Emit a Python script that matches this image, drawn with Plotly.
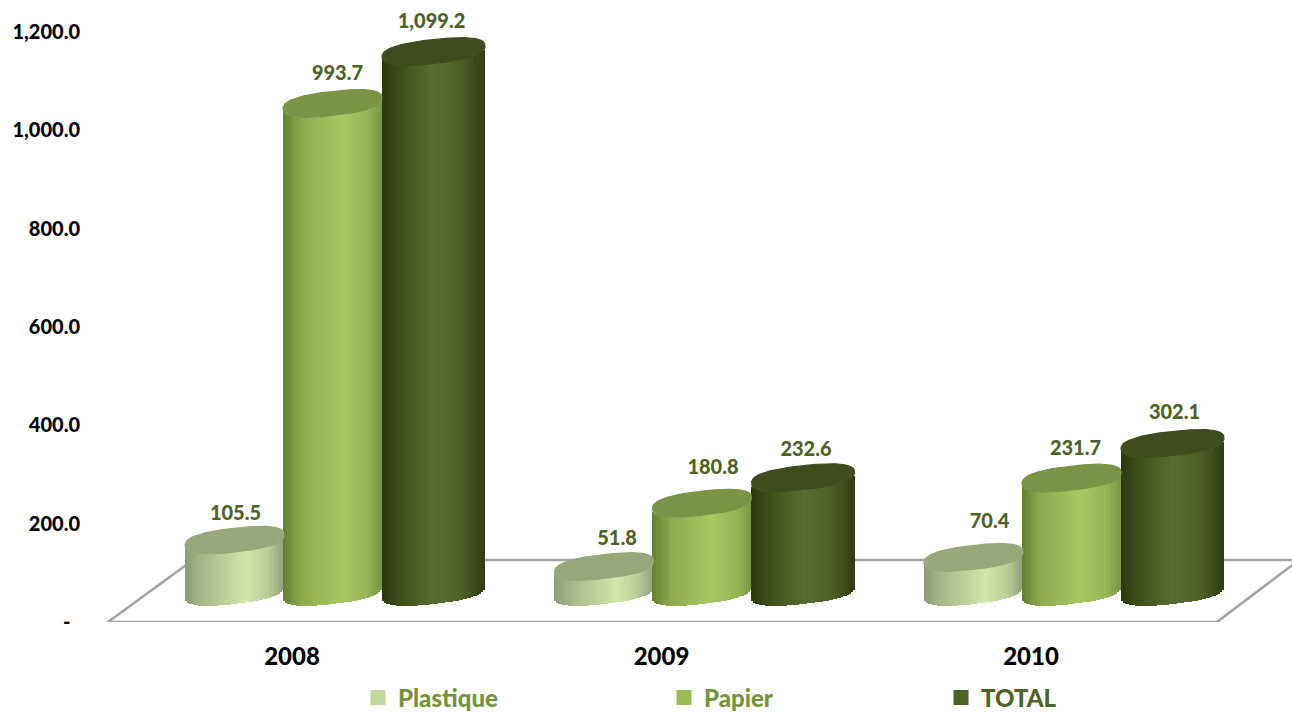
import math
import plotly.graph_objects as go

# ---- data ----
years = ["2008", "2009", "2010"]
plastique = [105.5, 51.8, 70.4]
papier = [993.7, 180.8, 231.7]
total = [1099.2, 232.6, 302.1]
y_ticks = [0, 200, 400, 600, 800, 1000, 1200]

# ---- geometry / style ----
W, H = 1292, 715
PLOT_L, PLOT_B = 88, 93
PX_PER_UNIT = 0.4917
PX_PER_CAT = 369.5
TICK0_PX = 292
FLOOR_OFFSET = 30 / PX_PER_UNIT          # cylinders stand on the 3-D floor
TILT = 5.5 / PX_PER_UNIT
MINOR = 12 / PX_PER_UNIT
ROUND = 0.8                               # <1 gives the squarer ellipse of the original
STRIPS = 52

series = [
    dict(name="Plastique", values=plastique, off=-57.5, width=99, top="#98A779", legend="#C3D69B", text="#76923C",
         nudge=[(-1, 4), (11, 2), (14, -5)],
         stops=[(-1, "#8B9C76"), (-0.6, "#A9BB8B"), (0.25, "#D3E5A9"), (0.7, "#B9CA95"), (1, "#8F9F7F")]),
    dict(name="Papier", values=papier, off=40.5, width=99, top="#7A9346", legend="#9BBB59", text="#76923C",
         nudge=[(3, 1), (9, -5), (2, 1)],
         stops=[(-1, "#64802F"), (-0.6, "#8FAC50"), (0.2, "#A6C862"), (0.7, "#96B556"), (1, "#7A9445")]),
    dict(name="TOTAL", values=total, off=141.5, width=103, top="#3F4C1E", legend="#4F6228", text="#4F6228",
         nudge=[(-4, 0), (1, 2), (0, 0)],
         stops=[(-1, "#2C3910"), (-0.55, "#43541F"), (0.0, "#5A6C2F"), (0.55, "#4E5F27"), (1, "#2F3C12")]),
]
LABEL_COLOR = "#4F6228"
FONT = "Lato, Carlito, sans-serif"
WEIGHT = 900


def shade(u, stops):
    for (u0, c0), (u1, c1) in zip(stops, stops[1:]):
        if u <= u1:
            t = (u - u0) / (u1 - u0)
            a = [int(c0[i:i + 2], 16) for i in (1, 3, 5)]
            b = [int(c1[i:i + 2], 16) for i in (1, 3, 5)]
            return "rgb(%d,%d,%d)" % tuple(round(p + (q - p) * t) for p, q in zip(a, b))
    return stops[-1][1]


def front(u):
    return (1 - abs(u) ** (2 / ROUND)) ** (ROUND / 2)


fig = go.Figure()

for s in series:
    half = s["width"] / 2 / PX_PER_CAT
    xs, ys, bases, colors = [], [], [], []
    label_x, label_y = [], []
    for i, v in enumerate(s["values"]):
        cx = i + s["off"] / PX_PER_CAT
        for k in range(STRIPS):
            u = -1 + (2 * k + 1) / STRIPS
            xs.append(cx + u * half)
            ys.append(v)
            bases.append(FLOOR_OFFSET + TILT * u - MINOR * front(u))
            colors.append(shade(u, s["stops"]))
        # flat top of the cylinder
        ex, ey = [], []
        for a in range(145):
            t = 2 * math.pi * a / 144
            cu = math.copysign(abs(math.cos(t)) ** ROUND, math.cos(t))
            su = math.copysign(abs(math.sin(t)) ** ROUND, math.sin(t))
            ex.append(cx + half * cu)
            ey.append(FLOOR_OFFSET + v + TILT * cu + MINOR * su)
        fig.add_trace(go.Scatter(x=ex, y=ey, mode="lines", fill="toself", fillcolor=s["top"],
                                 line=dict(width=1.2, color=s["top"]), showlegend=False, hoverinfo="skip"))
        dx, dy = s["nudge"][i]
        label_x.append(cx + (2 + dx) / PX_PER_CAT)
        label_y.append(FLOOR_OFFSET + v + (29 - dy) / PX_PER_UNIT)
    fig.add_trace(go.Bar(x=xs, y=ys, base=bases, width=[2 * half / STRIPS * 1.05] * len(xs),
                         marker=dict(color=colors, line=dict(width=0)), showlegend=False, hoverinfo="skip"))
    fig.add_trace(go.Scatter(x=label_x, y=label_y, mode="text",
                             text=[f"{v:,.1f}" for v in s["values"]],
                             textposition="middle center",
                             textfont=dict(family=FONT, size=20, weight=WEIGHT, color=LABEL_COLOR),
                             showlegend=False, hoverinfo="skip"))

# legends (one per series so that each can be placed on its own)
legend_px = [358, 664, 941]
plot_w = W - PLOT_L
plot_h = H - PLOT_B
legends = {}
for n, (s, lx) in enumerate(zip(series, legend_px)):
    key = "legend" if n == 0 else f"legend{n + 1}"
    fig.add_trace(go.Scatter(x=[None], y=[None], mode="markers", name=s["name"], legend=key,
                             marker=dict(symbol="square", size=15, color=s["legend"])))
    legends[key] = dict(x=(lx - PLOT_L) / plot_w, y=(plot_h - 698) / plot_h, xanchor="left", yanchor="middle",
                        bgcolor="rgba(0,0,0,0)", itemclick=False, itemdoubleclick=False,
                        font=dict(family=FONT, size=24, weight=WEIGHT, color=s["text"]))


def px_x(p):
    return (p - TICK0_PX) / PX_PER_CAT


def px_y(p):
    return (plot_h - p) / PX_PER_UNIT


floor = [(108, 622), (1217, 622), (1299, 560), (193, 560)]
floor_path = "M " + " L ".join(f"{px_x(a)},{px_y(b)}" for a, b in floor) + " Z"

fig.update_layout(
    width=W, height=H,
    margin=dict(l=PLOT_L, r=0, t=0, b=PLOT_B, pad=0, autoexpand=False),
    paper_bgcolor="white", plot_bgcolor="white",
    barmode="overlay", bargap=0,
    shapes=[dict(type="path", path=floor_path, xref="x", yref="y", layer="below",
                 line=dict(color="#A3A3A3", width=2.5))],
    xaxis=dict(range=[px_x(PLOT_L), px_x(W)], tickvals=list(range(len(years))), ticktext=years,
               showgrid=False, zeroline=False, showline=False, ticks="", ticklabelstandoff=18,
               tickfont=dict(family=FONT, size=24, weight=WEIGHT, color="black")),
    yaxis=dict(range=[0, plot_h / PX_PER_UNIT], tickvals=y_ticks,
               ticktext=[f"{v:,.1f}" if v else "-\u00a0\u00a0" for v in y_ticks],
               showgrid=False, zeroline=False, showline=False, ticks="", ticklabelstandoff=7,
               tickfont=dict(family=FONT, size=20, weight=WEIGHT, color="black")),
    **legends,
)

fig.write_html("out.html", config={"displayModeBar": False},
               post_script="document.body.style.margin='0';document.documentElement.style.overflow='hidden';")
